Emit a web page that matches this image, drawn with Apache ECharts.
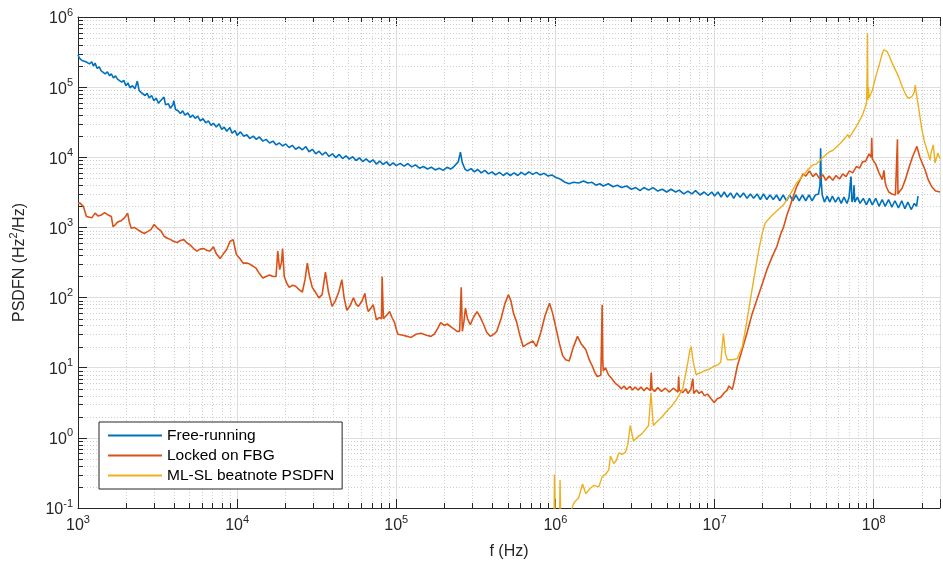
<!DOCTYPE html>
<html>
<head>
<meta charset="utf-8">
<script src="https://cdn.jsdelivr.net/npm/echarts@6/dist/echarts.min.js"></script>
<style>
html,body{margin:0;padding:0;background:#fff;overflow:hidden;}
#chart{width:943px;height:566px;}
</style>
</head>
<body>
<div id="chart"></div>
<script>
// ---------- data (f in Hz, PSDFN in Hz^2/Hz) ----------
const seriesNames = ['Free-running', 'Locked on FBG', 'ML-SL beatnote PSDFN'];
const X_MIN = 1e3, X_MAX = 2.61e8, Y_MIN = 0.1, Y_MAX = 1e6;
const xTickExponents = [3, 4, 5, 6, 7, 8];
const yTickExponents = [-1, 0, 1, 2, 3, 4, 5, 6];

const freeRunning = [
  [1.0e3,2.9e5],[1.02e3,2.6e5],[1.04e3,2.75e5],[1.06e3,2.4e5],[1.09e3,2.55e5],[1.12e3,2.3e5],[1.15e3,2.45e5],
  [1.18e3,2.15e5],[1.22e3,2.3e5],[1.25e3,2.0e5],[1.28e3,2.2e5],[1.32e3,1.85e5],[1.36e3,1.95e5],[1.40e3,1.7e5],
  [1.44e3,1.8e5],[1.48e3,1.55e5],[1.53e3,1.65e5],[1.58e3,1.45e5],[1.62e3,1.55e5],[1.67e3,1.35e5],[1.72e3,1.45e5],
  [1.77e3,1.3e5],[1.82e3,1.35e5],[1.88e3,1.18e5],[1.94e3,1.25e5],[2.0e3,1.05e5],[2.06e3,1.15e5],[2.12e3,9.8e4],
  [2.2e3,1.05e5],[2.28e3,9.5e4],[2.36e3,1.22e5],[2.42e3,9.0e4],[2.49e3,8.4e4],[2.56e3,8.8e4],[2.64e3,7.6e4],
  [2.72e3,8.2e4],[2.8e3,7.0e4],[2.9e3,7.6e4],[3.0e3,6.4e4],[3.1e3,7.0e4],[3.2e3,5.9e4],[3.3e3,6.4e4],
  [3.47e3,7.2e4],[3.55e3,5.6e4],[3.7e3,5.8e4],[3.8e3,5.0e4],[3.95e3,5.6e4],[4.0e3,6.4e4],[4.1e3,4.8e4],
  [4.25e3,4.6e4],[4.4e3,4.2e4],[4.55e3,4.6e4],[4.7e3,4.0e4],[4.9e3,4.3e4],[5.08e3,3.7e4],[5.25e3,4.0e4],
  [5.45e3,3.6e4],[5.65e3,3.85e4],[5.87e3,3.3e4],[6.1e3,3.55e4],[6.35e3,3.1e4],[6.6e3,3.3e4],[6.85e3,2.85e4],
  [7.1e3,3.05e4],[7.4e3,2.7e4],[7.7e3,3.0e4],[8.0e3,2.5e4],[8.3e3,2.7e4],[8.6e3,2.35e4],[9.0e3,2.65e4],
  [9.3e3,2.2e4],[9.7e3,2.4e4],[1.0e4,2.05e4],[1.05e4,2.3e4],[1.1e4,2.0e4],[1.15e4,2.1e4],[1.2e4,1.85e4],
  [1.26e4,2.0e4],[1.32e4,1.8e4],[1.38e4,1.95e4],[1.45e4,1.7e4],[1.52e4,1.8e4],[1.6e4,1.6e4],[1.68e4,1.7e4],
  [1.76e4,1.5e4],[1.84e4,1.6e4],[1.93e4,1.45e4],[2.02e4,1.55e4],[2.12e4,1.38e4],[2.22e4,1.48e4],[2.33e4,1.3e4],
  [2.45e4,1.4e4],[2.57e4,1.28e4],[2.7e4,1.42e4],[2.83e4,1.2e4],[2.97e4,1.3e4],[3.12e4,1.12e4],[3.27e4,1.22e4],
  [3.43e4,1.08e4],[3.6e4,1.18e4],[3.78e4,1.03e4],[3.97e4,1.12e4],[4.17e4,9.9e3],[4.38e4,1.1e4],[4.6e4,9.6e3],
  [4.83e4,1.05e4],[5.07e4,9.4e3],[5.32e4,1.02e4],[5.59e4,9.0e3],[5.87e4,9.8e3],[6.16e4,8.7e3],[6.47e4,9.5e3],
  [6.8e4,8.5e3],[7.14e4,9.2e3],[7.5e4,8.0e3],[7.87e4,8.8e3],[8.27e4,7.9e3],[8.68e4,8.6e3],[9.1e4,7.6e3],
  [9.55e4,8.3e3],[1.0e5,7.6e3],[1.06e5,8.2e3],[1.12e5,7.5e3],[1.18e5,8.1e3],[1.25e5,7.3e3],[1.32e5,7.8e3],
  [1.4e5,7.0e3],[1.48e5,7.4e3],[1.57e5,6.8e3],[1.66e5,7.2e3],[1.76e5,6.6e3],[1.86e5,7.0e3],[1.97e5,6.5e3],
  [2.08e5,7.2e3],[2.2e5,6.8e3],[2.32e5,7.5e3],[2.45e5,8.6e3],[2.53e5,1.18e4],[2.6e5,8.4e3],[2.7e5,6.8e3],
  [2.8e5,6.4e3],[2.95e5,6.9e3],[3.1e5,6.2e3],[3.25e5,6.7e3],[3.42e5,6.0e3],[3.6e5,6.5e3],[3.8e5,5.8e3],
  [4.0e5,6.2e3],[4.2e5,5.6e3],[4.45e5,6.1e3],[4.7e5,5.5e3],[4.95e5,6.0e3],[5.2e5,5.5e3],[5.5e5,6.0e3],
  [5.8e5,5.5e3],[6.1e5,6.1e3],[6.45e5,5.6e3],[6.8e5,6.2e3],[7.2e5,5.7e3],[7.6e5,6.1e3],[8.0e5,5.6e3],
  [8.5e5,5.9e3],[9.0e5,5.4e3],[9.5e5,5.6e3],[1.0e6,5.2e3],[1.05e6,5.0e3],[1.1e6,4.7e3],[1.15e6,4.4e3],
  [1.22e6,4.2e3],[1.3e6,4.4e3],[1.4e6,4.3e3],[1.5e6,4.6e3],[1.6e6,4.3e3],[1.7e6,4.4e3],[1.8e6,4.0e3],
  [1.9e6,4.2e3],[2.0e6,3.9e3],[2.15e6,4.2e3],[2.3e6,3.8e3],[2.45e6,4.0e3],[2.61e6,3.7e3],[2.8e6,3.9e3],
  [3.0e6,3.5e3],[3.2e6,3.7e3],[3.4e6,3.35e3],[3.6e6,3.7e3],[3.85e6,3.4e3],[4.1e6,3.7e3],[4.4e6,3.3e3],
  [4.7e6,3.5e3],[5.0e6,3.2e3],[5.33e6,3.5e3],[5.7e6,3.2e3],[6.0e6,3.4e3],[6.4e6,3.0e3],[6.8e6,3.3e3],
  [7.2e6,3.0e3],[7.6e6,3.35e3],[8.1e6,2.9e3],[8.6e6,3.2e3],[9.1e6,2.85e3],[9.6e6,3.2e3],
  [1.0e7,2.8e3],[1.05e7,3.2e3],[1.1e7,2.7e3],[1.15e7,3.2e3],[1.2e7,2.7e3],[1.26e7,3.1e3],[1.32e7,2.6e3],
  [1.38e7,3.1e3],[1.45e7,2.7e3],[1.52e7,3.1e3],[1.6e7,2.6e3],[1.68e7,3.0e3],[1.76e7,2.6e3],[1.85e7,3.0e3],
  [1.94e7,2.5e3],[2.03e7,3.0e3],[2.13e7,2.5e3],[2.23e7,2.9e3],[2.34e7,2.5e3],[2.45e7,2.9e3],[2.57e7,2.4e3],
  [2.7e7,2.9e3],[2.83e7,2.4e3],[2.97e7,2.9e3],[3.1e7,2.4e3],[3.25e7,2.9e3],[3.4e7,2.4e3],[3.57e7,2.9e3],
  [3.74e7,2.4e3],[3.92e7,2.9e3],[4.1e7,2.4e3],[4.3e7,2.9e3],[4.5e7,3.0e3],[4.6e7,4.0e3],[4.64e7,1.34e4],
  [4.68e7,4.5e3],[4.75e7,2.9e3],[4.9e7,2.3e3],[5.1e7,2.8e3],[5.3e7,2.3e3],[5.5e7,2.8e3],[5.75e7,2.3e3],
  [6.0e7,2.7e3],[6.25e7,2.2e3],[6.5e7,2.7e3],[6.8e7,2.2e3],[7.0e7,2.7e3],[7.2e7,5.3e3],[7.3e7,2.3e3],
  [7.45e7,2.7e3],[7.52e7,4.0e3],[7.6e7,2.3e3],[7.9e7,2.7e3],[8.2e7,2.2e3],[8.6e7,2.6e3],[9.0e7,2.1e3],
  [9.4e7,2.6e3],[9.8e7,2.1e3],[1.03e8,2.6e3],[1.08e8,2.0e3],[1.13e8,2.5e3],[1.18e8,2.0e3],[1.24e8,2.5e3],
  [1.3e8,1.95e3],[1.36e8,2.4e3],[1.43e8,1.9e3],[1.5e8,2.4e3],[1.57e8,1.85e3],[1.64e8,2.3e3],[1.72e8,1.8e3],
  [1.8e8,2.2e3],[1.86e8,2.0e3],[1.88e8,2.4e3],[1.9e8,2.8e3]
];

const lockedFBG = [
  [1.0e3,2.2e3],[1.03e3,2.22e3],[1.08e3,2.0e3],[1.13e3,1.43e3],[1.22e3,1.37e3],[1.28e3,1.6e3],[1.34e3,1.45e3],
  [1.40e3,1.5e3],[1.47e3,1.63e3],[1.55e3,1.5e3],[1.62e3,1.43e3],[1.66e3,1.03e3],[1.72e3,1.1e3],[1.78e3,1.2e3],
  [1.87e3,1.25e3],[1.96e3,1.37e3],[2.05e3,1.6e3],[2.1e3,1.2e3],[2.16e3,9.7e2],[2.26e3,1.0e3],[2.37e3,9.3e2],
  [2.5e3,8.6e2],[2.61e3,8.2e2],[2.75e3,8.8e2],[2.87e3,9.3e2],[3.01e3,1.1e3],[3.15e3,9.8e2],[3.31e3,9.0e2],
  [3.47e3,7.5e2],[3.65e3,7.0e2],[3.82e3,6.7e2],[4.0e3,6.3e2],[4.2e3,6.1e2],[4.4e3,6.5e2],[4.62e3,6.7e2],
  [4.85e3,6.0e2],[5.08e3,5.6e2],[5.33e3,5.0e2],[5.59e3,4.6e2],[5.85e3,4.9e2],[6.15e3,5.0e2],[6.45e3,4.7e2],
  [6.76e3,4.6e2],[7.1e3,5.3e2],[7.4e3,4.2e2],[7.81e3,3.6e2],[8.2e3,4.2e2],[8.58e3,4.8e2],[9.01e3,6.3e2],
  [9.45e3,6.7e2],[9.7e3,5.0e2],[9.9e3,4.1e2],[1.04e4,3.6e2],[1.09e4,3.1e2],[1.15e4,3.1e2],[1.2e4,3.0e2],
  [1.26e4,2.8e2],[1.318e4,2.6e2],[1.38e4,2.2e2],[1.45e4,1.9e2],[1.52e4,2.0e2],[1.596e4,2.1e2],[1.68e4,2.0e2],
  [1.755e4,2.0e2],[1.8e4,4.6e2],[1.85e4,2.5e2],[1.9e4,3.2e2],[1.93e4,5.0e2],[1.977e4,2.0e2],[2.05e4,1.6e2],
  [2.124e4,1.4e2],[2.23e4,1.5e2],[2.334e4,1.45e2],[2.45e4,1.3e2],[2.57e4,1.2e2],[2.67e4,1.8e2],[2.76e4,3.1e2],
  [2.85e4,2.0e2],[2.965e4,1.4e2],[3.1e4,1.2e2],[3.265e4,9.9e1],[3.42e4,1.1e2],[3.587e4,2.3e2],[3.75e4,1.2e2],
  [3.95e4,7.5e1],[4.14e4,9.0e1],[4.35e4,1.2e2],[4.55e4,1.8e2],[4.7e4,1.0e2],[4.89e4,6.6e1],[5.1e4,7.5e1],
  [5.38e4,9.9e1],[5.6e4,8.0e1],[5.78e4,7.5e1],[6.1e4,9.0e1],[6.35e4,1.15e2],[6.5e4,8.0e1],[6.67e4,6.3e1],
  [6.9e4,7.0e1],[7.16e4,7.9e1],[7.35e4,6.0e1],[7.51e4,4.8e1],[7.8e4,5.2e1],[8.07e4,5.0e1],[8.15e4,2.0e2],
  [8.3e4,5.0e1],[8.46e4,4.8e1],[8.8e4,5.8e1],[9.08e4,6.3e1],[9.4e4,5.2e1],[9.76e4,4.4e1],[1.0e5,3.5e1],
  [1.025e5,3.0e1],[1.1e5,2.9e1],[1.17e5,2.8e1],[1.24e5,2.7e1],[1.33e5,3.0e1],[1.43e5,3.1e1],[1.55e5,2.9e1],
  [1.65e5,2.8e1],[1.73e5,3.0e1],[1.82e5,3.6e1],[1.9e5,4.4e1],[2.0e5,4.0e1],[2.09e5,4.2e1],[2.25e5,3.7e1],
  [2.415e5,3.3e1],[2.5e5,3.3e1],[2.56e5,1.4e2],[2.6e5,3.3e1],[2.66e5,4.5e1],[2.72e5,7.1e1],[2.8e5,5.0e1],
  [2.92e5,4.1e1],[3.05e5,5.2e1],[3.22e5,6.3e1],[3.38e5,5.2e1],[3.54e5,4.1e1],[3.7e5,3.2e1],[3.89e5,2.8e1],
  [4.1e5,3.0e1],[4.28e5,3.3e1],[4.55e5,5.0e1],[4.8e5,8.0e1],[5.06e5,1.1e2],[5.25e5,9.0e1],[5.45e5,6.0e1],
  [5.7e5,4.5e1],[6.0e5,2.8e1],[6.27e5,2.0e1],[6.7e5,2.2e1],[7.23e5,2.4e1],[7.59e5,2.0e1],[8.1e5,3.2e1],
  [8.6e5,5.5e1],[9.18e5,8.3e1],[9.6e5,6.0e1],[1.01e6,3.6e1],[1.06e6,2.2e1],[1.109e6,1.5e1],[1.16e6,1.3e1],
  [1.22e6,1.25e1],[1.3e6,2.0e1],[1.376e6,2.8e1],[1.45e6,2.2e1],[1.553e6,1.8e1],[1.63e6,1.3e1],[1.707e6,1.05e1],
  [1.77e6,8.5],[1.83e6,7.5],[1.93e6,7.8],[1.96e6,7.5],[1.967e6,7.9e1],[1.985e6,1.2e1],[2.0e6,9.0],
  [2.064e6,1.0e1],[2.15e6,8.0],[2.27e6,6.9],[2.38e6,6.0],[2.498e6,5.5],[2.6e6,5.0],[2.7e6,5.5],[2.8e6,4.9],
  [2.95e6,5.4],[3.05e6,4.8],[3.171e6,5.3],[3.3e6,4.8],[3.45e6,5.3],[3.6e6,4.7],[3.75e6,5.2],[3.95e6,4.7],
  [4.0e6,8.5],[4.05e6,5.0],[4.2e6,4.6],[4.4e6,5.2],[4.64e6,4.6],[4.9e6,5.1],[5.2e6,4.5],[5.5e6,5.1],
  [5.89e6,4.5],[5.95e6,7.5],[6.0e6,4.8],[6.3e6,4.4],[6.6e6,5.0],[6.8e6,4.3],[7.1e6,4.9],[7.3e6,7.0],
  [7.4e6,4.3],[7.7e6,4.8],[8.0e6,4.3],[8.3e6,4.6],[8.63e6,4.0],[9.05e6,4.2],[9.5e6,3.6],[9.95e6,3.2],
  [1.04e7,3.6],[1.094e7,3.8],[1.15e7,4.4],[1.2e7,4.8],[1.233e7,5.5],[1.293e7,4.9],[1.34e7,7.0],[1.39e7,1.05e1],
  [1.5e7,1.9e1],[1.603e7,3.2e1],[1.72e7,5.8e1],[1.85e7,9.5e1],[2.0e7,1.6e2],[2.133e7,2.5e2],[2.3e7,3.8e2],
  [2.46e7,5.3e2],[2.6e7,8.0e2],[2.71e7,1.0e3],[2.85e7,1.5e3],[2.98e7,2.0e3],[3.13e7,2.8e3],[3.278e7,3.8e3],
  [3.45e7,4.8e3],[3.6e7,5.8e3],[3.75e7,5.4e3],[3.95e7,6.4e3],[4.15e7,5.3e3],[4.35e7,5.9e3],[4.55e7,5.0e3],
  [4.8e7,5.6e3],[5.0e7,4.7e3],[5.25e7,5.4e3],[5.53e7,4.7e3],[5.8e7,5.5e3],[6.1e7,4.9e3],[6.39e7,5.8e3],
  [6.7e7,5.3e3],[7.03e7,6.4e3],[7.38e7,6.0e3],[7.8e7,7.4e3],[8.15e7,7.0e3],[8.51e7,8.6e3],[8.9e7,8.8e3],
  [9.35e7,1.12e4],[9.65e7,1.0e4],[9.72e7,1.9e4],[9.8e7,9.5e3],[1.029e8,8.0e3],[1.08e8,6.0e3],[1.133e8,4.8e3],
  [1.16e8,6.5e3],[1.18e8,4.4e3],[1.2e8,3.8e3],[1.244e8,3.2e3],[1.3e8,3.0e3],[1.37e8,2.9e3],[1.40e8,3.0e3],
  [1.41e8,1.8e4],[1.42e8,3.0e3],[1.46e8,3.3e3],[1.507e8,3.6e3],[1.58e8,4.8e3],[1.656e8,6.8e3],[1.75e8,1.0e4],
  [1.868e8,1.43e4],[1.95e8,1.0e4],[2.104e8,6.6e3],[2.2e8,4.8e3],[2.316e8,3.8e3],[2.45e8,3.3e3],[2.61e8,3.2e3]
];

const beatnote = [
  [9.8e5,0.05],[9.86e5,0.3],[1.0e6,0.05],[1.06e6,0.05],[1.069e6,0.25],[1.084e6,0.05],[1.2e6,0.07],
  [1.31e6,0.12],[1.4e6,0.14],[1.48e6,0.22],[1.553e6,0.16],[1.65e6,0.19],[1.747e6,0.21],[1.876e6,0.2],
  [1.967e6,0.28],[2.06e6,0.3],[2.164e6,0.35],[2.218e6,0.55],[2.326e6,0.43],[2.42e6,0.48],[2.498e6,0.61],
  [2.62e6,0.58],[2.75e6,0.62],[2.85e6,0.8],[2.952e6,1.5],[3.095e6,0.9],[3.325e6,1.05],[3.5e6,1.15],
  [3.66e6,1.3],[3.85e6,1.5],[3.987e6,4.4],[4.12e6,1.5],[4.4e6,1.75],[4.64e6,1.95],[5.0e6,2.4],[5.35e6,2.8],
  [5.7e6,3.4],[6.04e6,4.2],[6.3e6,5.0],[6.49e6,6.9],[6.8e6,1.2e1],[7.0e6,1.8e1],[7.13e6,2.0e1],[7.35e6,1.2e1],
  [7.65e6,8.0],[8.1e6,8.4],[8.63e6,9.0],[9.2e6,9.5],[9.95e6,1.05e1],[1.05e7,1.1e1],[1.094e7,1.2e1],
  [1.137e7,3.1e1],[1.17e7,1.6e1],[1.204e7,1.3e1],[1.3e7,1.3e1],[1.39e7,1.35e1],[1.493e7,2.0e1],[1.58e7,4.0e1],
  [1.681e7,9.5e1],[1.8e7,2.4e2],[1.896e7,4.8e2],[2.0e7,8.5e2],[2.08e7,1.15e3],[2.237e7,1.4e3],[2.45e7,1.7e3],
  [2.71e7,2.1e3],[3.0e7,3.0e3],[3.278e7,4.3e3],[3.6e7,5.5e3],[3.9e7,6.8e3],[4.16e7,7.8e3],[4.36e7,8.0e3],
  [4.8e7,1.0e4],[5.27e7,1.2e4],[5.53e7,1.25e4],[6.2e7,1.6e4],[6.87e7,2.1e4],[7.03e7,1.9e4],[7.73e7,2.7e4],
  [8.51e7,4.0e4],[9.01e7,5.9e4],[9.1e7,1.5e5],[9.14e7,5.8e5],[9.2e7,6.5e4],[9.27e7,1.0e5],[9.35e7,7.0e4],
  [9.58e7,7.3e4],[9.82e7,9.1e4],[1.029e8,1.4e5],[1.07e8,1.9e5],[1.105e8,2.45e5],[1.13e8,3.0e5],[1.159e8,3.4e5],
  [1.19e8,3.3e5],[1.217e8,3.2e5],[1.26e8,2.7e5],[1.306e8,2.2e5],[1.37e8,1.75e5],[1.436e8,1.4e5],
  [1.49e8,1.1e5],[1.542e8,9.1e4],[1.6e8,7.6e4],[1.656e8,6.9e4],[1.738e8,7.3e4],[1.8e8,8.5e4],[1.823e8,1.07e5],
  [1.868e8,7.3e4],[1.94e8,4.2e4],[2.007e8,2.5e4],[2.08e8,1.7e4],[2.155e8,1.3e4],[2.26e8,9.2e3],[2.3e8,1.2e4],
  [2.37e8,1.5e4],[2.427e8,8.3e3],[2.53e8,1.15e4],[2.61e8,9.5e3]
];

// ---------- minor tick positions (2..9 per decade) ----------
function minorPositions(loExp, hiExp, maxVal) {
  const out = [];
  for (let e = loExp; e <= hiExp; e++) {
    for (let m = 2; m <= 9; m++) {
      const v = m * Math.pow(10, e);
      if (v < maxVal) out.push(v);
    }
  }
  return out;
}
const xMinor = minorPositions(3, 8, X_MAX);
const yMinor = minorPositions(-1, 5, Y_MAX);

const FONT = '"Liberation Sans", Arial, Helvetica, sans-serif';
const AXIS_COLOR = '#262626';
const COLORS = ['#0072BD', '#D95319', '#EDB120'];

function expLabel(v) {
  const l = Math.log10(v);
  const e = Math.round(l);
  if (Math.abs(l - e) > 1e-6) return '';
  return '{b|10}{s|' + (e < 0 ? '-' + (-e) : e) + '}';
}
const richSup = {
  b: { fontSize: 16, fontFamily: FONT, color: AXIS_COLOR, padding: [4, 0, 0, 0] },
  s: { fontSize: 11, fontFamily: FONT, color: AXIS_COLOR, verticalAlign: 'top' }
};

function px(v) { return Math.round(v) + 0.5; }

function vMinor(params, api) {
  const x = api.value(0);
  const p0 = api.coord([x, Y_MIN]);
  const p1 = api.coord([x, Y_MAX]);
  const X = px(p0[0]);
  return { type: 'group', children: [
    { type: 'line', shape: { x1: X, y1: p0[1], x2: X, y2: p1[1] }, style: { stroke: '#cfcfcf', lineWidth: 1, lineDash: [1, 2] } },
    { type: 'line', shape: { x1: X, y1: p0[1], x2: X, y2: p0[1] - 5 }, style: { stroke: AXIS_COLOR, lineWidth: 1 } },
    { type: 'line', shape: { x1: X, y1: p1[1], x2: X, y2: p1[1] + 5 }, style: { stroke: AXIS_COLOR, lineWidth: 1 } }
  ]};
}
function hMinor(params, api) {
  const y = api.value(1);
  const p0 = api.coord([X_MIN, y]);
  const p1 = api.coord([X_MAX, y]);
  const Y = px(p0[1]);
  return { type: 'group', children: [
    { type: 'line', shape: { x1: p0[0], y1: Y, x2: p1[0], y2: Y }, style: { stroke: '#cfcfcf', lineWidth: 1, lineDash: [1, 2] } },
    { type: 'line', shape: { x1: p0[0], y1: Y, x2: p0[0] + 5, y2: Y }, style: { stroke: AXIS_COLOR, lineWidth: 1 } }
  ]};
}

const chart = echarts.init(document.getElementById('chart'), null, { renderer: 'canvas' });

const lineSeries = [freeRunning, lockedFBG, beatnote].map((d, i) => ({
  name: seriesNames[i],
  type: 'line',
  data: d,
  showSymbol: false,
  symbol: 'none',
  clip: true,
  z: 5 + i,
  lineStyle: { color: COLORS[i], width: i === 2 ? 1.4 : 1.6 },
  itemStyle: { color: COLORS[i] },
  animation: false
}));

chart.setOption({
  animation: false,
  backgroundColor: '#fff',
  color: COLORS,
  grid: { left: 73, right: -2, top: 17, bottom: 58, containLabel: false },
  legend: {
    data: seriesNames,
    orient: 'vertical',
    left: 99, top: 422,
    padding: [5, 8, 5, 9],
    itemGap: 3,
    itemWidth: 54, itemHeight: 2,
    icon: 'rect',
    align: 'left',
    backgroundColor: '#fff',
    borderColor: AXIS_COLOR, borderWidth: 1, borderRadius: 0,
    textStyle: { fontSize: 15.5, fontFamily: FONT, color: '#000', lineHeight: 17 },
    selectedMode: false,
    z: 20
  },
  xAxis: [{
    type: 'log', logBase: 10, min: X_MIN, max: X_MAX,
    position: 'bottom',
    name: 'f (Hz)', nameLocation: 'middle', nameGap: 36,
    nameTextStyle: { fontSize: 16, fontFamily: FONT, color: AXIS_COLOR },
    axisLine: { show: true, lineStyle: { color: AXIS_COLOR, width: 1 } },
    axisTick: { show: true, inside: true, length: 9, lineStyle: { color: AXIS_COLOR } },
    axisLabel: { formatter: expLabel, rich: richSup, margin: 6 },
    splitLine: { show: true, lineStyle: { color: '#dedede', width: 1 } },
    minorTick: { show: false }, minorSplitLine: { show: false }
  }, {
    type: 'log', logBase: 10, min: X_MIN, max: X_MAX,
    position: 'top',
    axisLine: { show: true, lineStyle: { color: AXIS_COLOR, width: 1 } },
    axisTick: { show: true, inside: true, length: 9, lineStyle: { color: AXIS_COLOR } },
    axisLabel: { show: false },
    splitLine: { show: false }
  }],
  yAxis: [{
    type: 'log', logBase: 10, min: Y_MIN, max: Y_MAX, splitNumber: 7,
    name: '{n|PSDFN (Hz}{s|2}{n|/Hz)}', nameLocation: 'middle', nameGap: 50, nameRotate: 90,
    nameTextStyle: {
      rich: {
        n: { fontSize: 16, fontFamily: FONT, color: AXIS_COLOR, padding: [4, 0, 0, 0] },
        s: { fontSize: 11, fontFamily: FONT, color: AXIS_COLOR, verticalAlign: 'top' }
      }
    },
    axisLine: { show: true, lineStyle: { color: AXIS_COLOR, width: 1 } },
    axisTick: { show: true, inside: true, length: 9, lineStyle: { color: AXIS_COLOR } },
    axisLabel: { formatter: expLabel, rich: richSup, margin: 5 },
    splitLine: { show: true, lineStyle: { color: '#dedede', width: 1 } }
  }],
  series: [
    {
      type: 'custom', name: 'xminor', silent: true, z: 1,
      xAxisIndex: 0, yAxisIndex: 0,
      renderItem: vMinor, clip: false,
      data: xMinor.map(v => [v, Y_MIN]), encode: { x: 0, y: 1 }
    },
    {
      type: 'custom', name: 'yminor', silent: true, z: 1,
      xAxisIndex: 0, yAxisIndex: 0,
      renderItem: hMinor, clip: false,
      data: yMinor.map(v => [X_MIN, v]), encode: { x: 0, y: 1 }
    }
  ].concat(lineSeries)
});
</script>
</body>
</html>
